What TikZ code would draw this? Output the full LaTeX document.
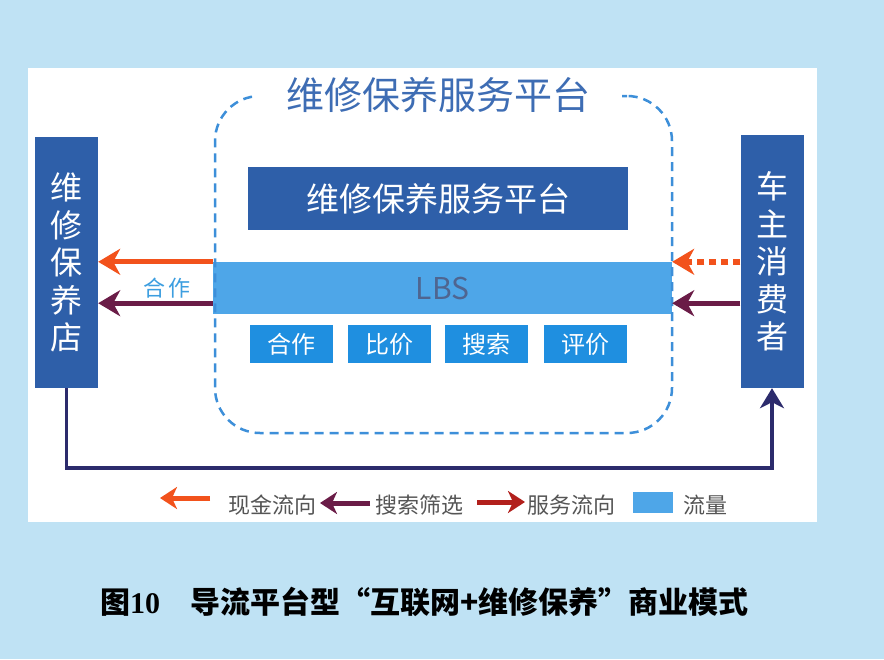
\documentclass[tikz,border=0pt]{standalone}
\usepackage{fontspec}
\setmainfont{Noto Sans CJK SC}
\newfontfamily\serifbf{Liberation Serif}
\usetikzlibrary{arrows.meta}
\definecolor{bgblue}{HTML}{BFE2F4}
\definecolor{darkbox}{HTML}{2E5FA9}
\definecolor{bandblue}{HTML}{4EA6E8}
\definecolor{smallblue}{HTML}{1F8FE0}
\definecolor{dashblue}{HTML}{3D8FD9}
\definecolor{titleblue}{HTML}{3E6DB4}
\definecolor{cashorange}{HTML}{F2521C}
\definecolor{searchpurple}{HTML}{6A1C47}
\definecolor{navyline}{HTML}{2C2B6C}
\definecolor{servred}{HTML}{B2201C}
\definecolor{legendgray}{HTML}{555555}
\definecolor{lbstext}{HTML}{4F6590}
\definecolor{coopblue}{HTML}{3C9EE0}
\tikzset{
  sidebox/.style={fill=darkbox, text=white, align=center, inner sep=0pt,
    minimum width=63pt, font=\fontsize{32}{37.6}\selectfont},
  platbox/.style={fill=darkbox, text=white, inner sep=0pt,
    font=\fontsize{33}{36}\selectfont},
  bandbox/.style={fill=bandblue, text=lbstext, inner sep=0pt,
    font=\fontsize{30}{32}\selectfont},
  funcbox/.style={fill=smallblue, text=white, inner sep=0pt,
    minimum width=83pt, minimum height=38pt, font=\fontsize{24}{26}\selectfont},
  platframe/.style={draw=dashblue, line width=2.5pt, dash pattern=on 9pt off 6pt,
    rounded corners=45pt, inner sep=0pt},
  cashline/.style={draw=cashorange, line width=5pt,
    -{Stealth[length=22pt,width=26pt,inset=7pt]}},
  cashdotted/.style={draw=cashorange, line width=6pt, dash pattern=on 7pt off 5pt,
    -{Stealth[length=22pt,width=26pt,inset=7pt]}},
  searchline/.style={draw=searchpurple, line width=5pt,
    -{Stealth[length=22pt,width=26pt,inset=7pt]}},
  servline/.style={draw=servred, line width=5pt,
    -{Stealth[length=20pt,width=24pt,inset=6pt]}},
  flowline/.style={draw=navyline, line width=3.5pt,
    -{Stealth[length=20pt,width=24pt,inset=6pt]}},
  legendtext/.style={text=legendgray, anchor=west, inner sep=0pt,
    font=\fontsize{22}{24}\selectfont},
}
\begin{document}
\begin{tikzpicture}[x=1pt,y=-1pt]
\useasboundingbox (0,0) rectangle (884,659);
\fill[bgblue] (0,0) rectangle (884,659);
\fill[white] (28,68) rectangle (817,522);

% LBS band (under the frame)
\node[bandbox, minimum width=459pt, minimum height=52pt] (band) at (442.5,288) {LBS};

% dashed platform frame
\node[platframe, minimum width=457pt, minimum height=337pt] (platform) at (443.5,264.5) {};
\node[fill=white, text=titleblue, inner xsep=32pt, inner ysep=1pt,
  font=\fontsize{38}{40}\selectfont] (ptitle) at (438,95) {维修保养服务平台};

% inner platform box
\node[platbox, minimum width=380pt, minimum height=63pt] (core) at (438,198.5) {维修保养服务平台};

% function boxes
\node[funcbox] (f1) at (291.5,344) {合作};
\node[funcbox] (f2) at (389,344) {比价};
\node[funcbox] (f3) at (486.5,344) {搜索};
\node[funcbox] (f4) at (585,344) {评价};

% side boxes
\node[sidebox, minimum height=251pt] (shop) at (66.5,262.5) {维\\修\\保\\养\\店};
\node[sidebox, minimum height=253pt] (owner) at (772,261.5) {车\\主\\消\\费\\者};

% arrows between platform and shop
\coordinate (lp) at ([yshift=11pt]band.south west);
\coordinate (rp) at ([yshift=11pt]band.south east);
\draw[cashline] (band.north west) -- (band.north west -| shop.east);
\draw[searchline] (lp) -- (lp -| shop.east);
\node[text=coopblue, inner sep=0pt, font=\fontsize{22}{24}\selectfont] (coop) at (167,288) {合\,作};

% arrows from owner to platform
\draw[cashdotted] (band.north east -| owner.west) -- (band.north east);
\draw[searchline] (rp -| owner.west) -- (rp);

% service flow line
\draw[flowline] (shop.south) -- ++(0,80) -| (owner.south);

% legend
\coordinate (l1a) at (210,498); \coordinate (l1b) at (160,498);
\draw[cashline, line width=5pt, -{Stealth[length=17pt,width=22pt,inset=5pt]}] (l1a) -- (l1b);
\node[legendtext] (t1) at (228,505) {现金流向};
\coordinate (l2a) at (370,503); \coordinate (l2b) at (320,503);
\draw[searchline, -{Stealth[length=17pt,width=22pt,inset=5pt]}] (l2a) -- (l2b);
\node[legendtext] (t2) at (375,505) {搜索筛选};
\coordinate (l3a) at (477,502); \coordinate (l3b) at (525,502);
\draw[servline, -{Stealth[length=17pt,width=22pt,inset=5pt]}] (l3a) -- (l3b);
\node[legendtext] (t3) at (527,505) {服务流向};
\node[fill=bandblue, minimum width=40pt, minimum height=21pt, inner sep=0pt] (sq) at (653,502.5) {};
\node[legendtext] (t4) at (683,505) {流量};

% caption
\node[anchor=west, inner sep=0pt, text=black, font=\fontsize{30}{32}\selectfont\bfseries] (caption) at (100,602)
  {图{\serifbf\bfseries 10}\hspace{30pt}导流平台型“互联网+维修保养”商业模式};
\end{tikzpicture}
\end{document}
